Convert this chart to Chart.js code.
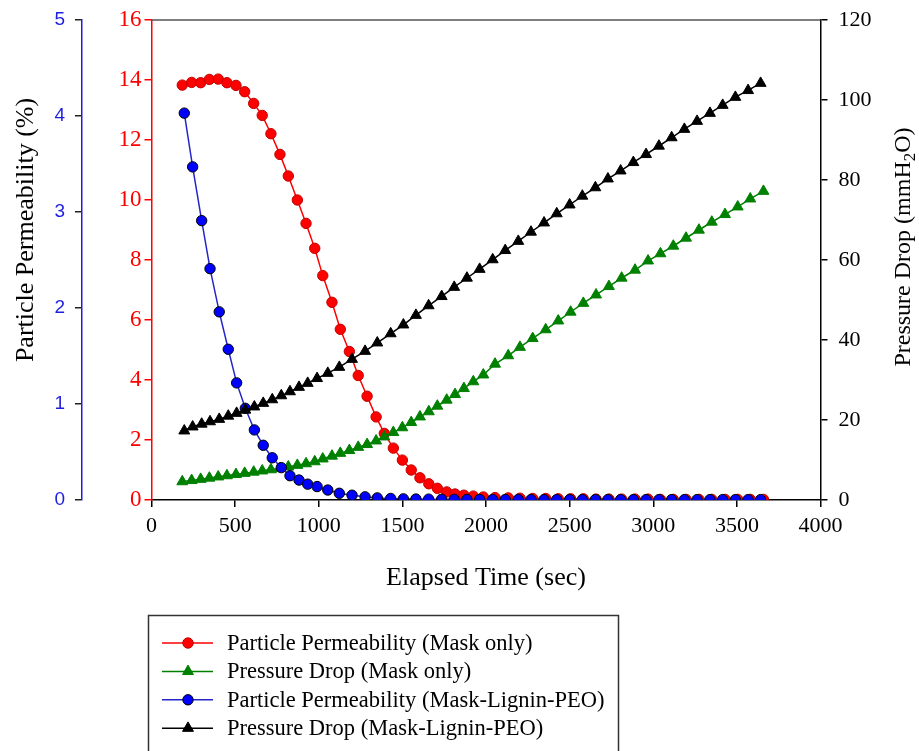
<!DOCTYPE html>
<html lang="en">
<head>
<meta charset="UTF-8">
<title>Particle Permeability and Pressure Drop</title>
<script src="https://cdn.jsdelivr.net/npm/chart.js@4/dist/chart.umd.min.js"></script>
<style>
  html, body { margin: 0; padding: 0; background: #fff; }
  canvas { display: block; }
</style>
</head>
<body>
<canvas id="chart" width="919" height="751"></canvas>
<script>
// Mask only: elapsed time (sec), particle permeability (%), pressure drop (mmH2O)
const timeMask = [184, 240, 294, 346, 399, 451, 505, 557, 611, 662,
  714, 768, 818, 872, 924, 976, 1024, 1079, 1129, 1183,
  1236, 1289, 1343, 1392, 1446, 1500, 1553, 1605, 1658, 1709,
  1765, 1815, 1868, 1924, 1984, 2054, 2133, 2203, 2279, 2357,
  2432, 2506, 2582, 2658, 2735, 2811, 2891, 2969, 3043, 3120,
  3196, 3273, 3350, 3429, 3505, 3580, 3659];
const permMask = [13.83, 13.92, 13.91, 14.02, 14.03, 13.91, 13.82, 13.61, 13.22, 12.82,
  12.21, 11.52, 10.80, 10.00, 9.22, 8.39, 7.48, 6.59, 5.69, 4.95,
  4.15, 3.46, 2.77, 2.22, 1.73, 1.33, 1.00, 0.74, 0.54, 0.39,
  0.27, 0.20, 0.16, 0.13, 0.10, 0.08, 0.07, 0.06, 0.05, 0.05,
  0.04, 0.04, 0.04, 0.03, 0.03, 0.03, 0.03, 0.03, 0.02, 0.02,
  0.02, 0.02, 0.02, 0.02, 0.02, 0.02, 0.02];
const dropMask = [4.6, 4.9, 5.2, 5.5, 5.8, 6.1, 6.4, 6.7, 7.0, 7.3,
  7.6, 7.9, 8.3, 8.7, 9.1, 9.6, 10.3, 11.0, 11.7, 12.4,
  13.2, 13.9, 14.8, 15.8, 16.9, 18.1, 19.4, 20.8, 22.1, 23.5,
  25.0, 26.4, 27.9, 29.6, 31.3, 34.0, 36.1, 38.2, 40.4, 42.6,
  44.8, 47.0, 49.2, 51.3, 53.4, 55.5, 57.5, 59.8, 61.6, 63.5,
  65.5, 67.5, 69.5, 71.4, 73.3, 75.3, 77.2];

// Mask-Lignin-PEO
const timeLignin = [196, 246, 300, 350, 405, 459, 509, 561, 615, 668,
  722, 776, 828, 882, 934, 990, 1054, 1123, 1199, 1277,
  1350, 1430, 1506, 1581, 1657, 1735, 1810, 1886, 1962, 2040,
  2115, 2193, 2269, 2347, 2423, 2500, 2576, 2654, 2729, 2805,
  2881, 2957, 3034, 3110, 3186, 3262, 3339, 3415, 3491, 3567,
  3642];
const permLignin = [4.03, 3.47, 2.91, 2.41, 1.96, 1.57, 1.22, 0.955, 0.73, 0.57,
  0.44, 0.337, 0.253, 0.208, 0.165, 0.14, 0.104, 0.07, 0.05, 0.033,
  0.022, 0.016, 0.012, 0.010, 0.009, 0.008, 0.007, 0.006, 0.006, 0.005,
  0.005, 0.005, 0.004, 0.004, 0.004, 0.004, 0.004, 0.004, 0.004, 0.004,
  0.004, 0.004, 0.004, 0.004, 0.004, 0.004, 0.004, 0.004, 0.004, 0.004,
  0.004];
const dropLignin = [17.3, 18.3, 19.0, 19.6, 20.2, 21.0, 21.7, 22.5, 23.3, 24.2,
  25.1, 26.1, 27.1, 28.2, 29.2, 30.4, 31.7, 33.2, 35.2, 37.2,
  39.3, 41.6, 43.8, 46.2, 48.6, 50.9, 53.2, 55.5, 57.7, 60.1,
  62.4, 64.7, 67.0, 69.3, 71.6, 73.8, 76.0, 78.1, 80.3, 82.3,
  84.4, 86.4, 88.5, 90.6, 92.7, 94.7, 96.7, 98.7, 100.7, 102.4,
  104.2];

const seriesNames = [
  'Particle Permeability (Mask only)',
  'Pressure Drop (Mask only)',
  'Particle Permeability (Mask-Lignin-PEO)',
  'Pressure Drop (Mask-Lignin-PEO)'
];

// tick labels
const timeTicks = [0, 500, 1000, 1500, 2000, 2500, 3000, 3500, 4000];
const permMaskTicks = [0, 2, 4, 6, 8, 10, 12, 14, 16];
const permLigninTicks = [0, 1, 2, 3, 4, 5];
const dropTicks = [0, 20, 40, 60, 80, 100, 120];

const SERIF = "'Liberation Serif', 'Times New Roman', serif";
const SANS = "'Liberation Sans', Arial, sans-serif";
const RED = '#ff0000';
const BLUE = '#1e1ee0';

function pairs(xs, ys) {
  return xs.map((x, i) => ({ x: x, y: ys[i] }));
}
function fixedTicks(list) {
  return scale => { scale.ticks = list.map(v => ({ value: v })); };
}
// fixed box width, and no extra label padding so the plot top stays put
function fixedWidth(w) {
  return scale => { scale.width = w; scale.paddingTop = 0; scale.paddingBottom = 0; };
}
const plainLabel = v => String(v);

// frame line, axis titles and the boxed legend under the plot
const decorations = {
  id: 'decorations',
  afterDraw(chart) {
    const ctx = chart.ctx;
    const a = chart.chartArea;
    ctx.save();

    ctx.strokeStyle = '#555';
    ctx.lineWidth = 1.5;
    ctx.beginPath();
    ctx.moveTo(a.left, a.top);
    ctx.lineTo(a.right, a.top);
    ctx.stroke();

    ctx.fillStyle = '#000';
    ctx.font = '26px ' + SERIF;
    ctx.textAlign = 'center';
    ctx.textBaseline = 'middle';
    ctx.fillText('Elapsed Time (sec)', (a.left + a.right) / 2, 578);

    ctx.save();
    ctx.translate(26, 230);
    ctx.rotate(-Math.PI / 2);
    ctx.fillText('Particle Permeability (%)', 0, 0);
    ctx.restore();

    // right title with subscript 2
    ctx.save();
    ctx.translate(904, 247);
    ctx.rotate(-Math.PI / 2);
    const p1 = 'Pressure Drop (mmH', p2 = '2', p3 = 'O)';
    ctx.font = '24px ' + SERIF;
    const w1 = ctx.measureText(p1).width;
    const w3 = ctx.measureText(p3).width;
    ctx.font = '17px ' + SERIF;
    const w2 = ctx.measureText(p2).width;
    const x0 = -(w1 + w2 + w3) / 2;
    ctx.textAlign = 'left';
    ctx.font = '24px ' + SERIF;
    ctx.fillText(p1, x0, 0);
    ctx.font = '17px ' + SERIF;
    ctx.fillText(p2, x0 + w1, 7);
    ctx.font = '24px ' + SERIF;
    ctx.fillText(p3, x0 + w1 + w2, 0);
    ctx.restore();

    // legend
    ctx.strokeStyle = '#333';
    ctx.lineWidth = 1.5;
    ctx.strokeRect(148.5, 615.5, 470, 160);
    ctx.font = '22.5px ' + SERIF;
    ctx.textAlign = 'left';
    ctx.textBaseline = 'middle';
    chart.data.datasets.forEach((ds, i) => {
      const y = 643 + i * 28.4;
      ctx.strokeStyle = ds.borderColor;
      ctx.lineWidth = ds.borderWidth;
      ctx.beginPath();
      ctx.moveTo(162, y);
      ctx.lineTo(213, y);
      ctx.stroke();
      ctx.fillStyle = ds.pointBackgroundColor;
      ctx.strokeStyle = ds.pointBorderColor;
      ctx.lineWidth = ds.pointBorderWidth;
      Chart.helpers.drawPoint(ctx, {
        pointStyle: ds.pointStyle, radius: ds.pointRadius,
        borderWidth: ds.pointBorderWidth, rotation: 0
      }, 188, y);
      ctx.fillStyle = '#000';
      ctx.fillText(ds.label, 227, y + 1);
    });

    ctx.restore();
  }
};

new Chart(document.getElementById('chart'), {
  type: 'line',
  data: {
    datasets: [
      {
        label: seriesNames[0], data: pairs(timeMask, permMask), yAxisID: 'yRed', order: 4,
        borderColor: RED, borderWidth: 1.5, pointStyle: 'circle', pointRadius: 5.2,
        pointBackgroundColor: RED, pointBorderColor: '#c00000', pointBorderWidth: 1
      },
      {
        label: seriesNames[1], data: pairs(timeMask, dropMask), yAxisID: 'yDrop', order: 3,
        borderColor: '#008000', borderWidth: 1.5, pointStyle: 'triangle', pointRadius: 6.3,
        pointBackgroundColor: '#008000', pointBorderColor: '#008000', pointBorderWidth: 1
      },
      {
        label: seriesNames[2], data: pairs(timeLignin, permLignin), yAxisID: 'yBlue', order: 2,
        borderColor: '#2626c8', borderWidth: 1.5, pointStyle: 'circle', pointRadius: 5.2,
        pointBackgroundColor: '#0000ff', pointBorderColor: '#000', pointBorderWidth: 1
      },
      {
        label: seriesNames[3], data: pairs(timeLignin, dropLignin), yAxisID: 'yDrop', order: 1,
        borderColor: '#000', borderWidth: 1.5, pointStyle: 'triangle', pointRadius: 6.3,
        pointBackgroundColor: '#000', pointBorderColor: '#000', pointBorderWidth: 1
      }
    ]
  },
  options: {
    responsive: false,
    animation: false,
    devicePixelRatio: 1,
    layout: { padding: { top: 20, right: 0, bottom: 151, left: 0 } },
    plugins: { legend: { display: false }, tooltip: { enabled: false } },
    elements: { line: { tension: 0 } },
    scales: {
      x: {
        type: 'linear', position: 'bottom', min: 0, max: 4000,
        afterBuildTicks: fixedTicks(timeTicks),
        afterFit: s => { s.height = 100; },
        grid: { drawOnChartArea: false, drawTicks: true, tickLength: 7, color: '#000', lineWidth: 1.5 },
        border: { color: '#000', width: 1.5 },
        ticks: { color: '#000', padding: 6, maxRotation: 0, callback: plainLabel,
          font: { family: SERIF, size: 22 } }
      },
      yRed: {
        type: 'linear', position: 'left', weight: 0, min: 0, max: 16,
        afterBuildTicks: fixedTicks(permMaskTicks),
        afterFit: fixedWidth(69.5),
        grid: { drawOnChartArea: false, tickLength: 7, color: RED, lineWidth: 1.5 },
        border: { color: RED, width: 1.5 },
        ticks: { color: RED, padding: 3, callback: plainLabel, font: { family: SERIF, size: 23 } }
      },
      yBlue: {
        type: 'linear', position: 'left', weight: 1, min: 0, max: 5,
        afterBuildTicks: fixedTicks(permLigninTicks),
        afterFit: fixedWidth(82),
        grid: { drawOnChartArea: false, tickLength: 7, color: '#222', lineWidth: 1.5 },
        border: { color: BLUE, width: 1.5 },
        ticks: { color: BLUE, padding: 10, callback: plainLabel, font: { family: SANS, size: 19 } }
      },
      yDrop: {
        type: 'linear', position: 'right', min: 0, max: 120,
        afterBuildTicks: fixedTicks(dropTicks),
        afterFit: fixedWidth(98.5),
        grid: { drawOnChartArea: false, tickLength: 7, color: '#000', lineWidth: 1.5 },
        border: { color: '#000', width: 1.5 },
        ticks: { color: '#000', padding: 11, callback: plainLabel, font: { family: SERIF, size: 22 } }
      }
    }
  },
  plugins: [decorations]
});
</script>
</body>
</html>
